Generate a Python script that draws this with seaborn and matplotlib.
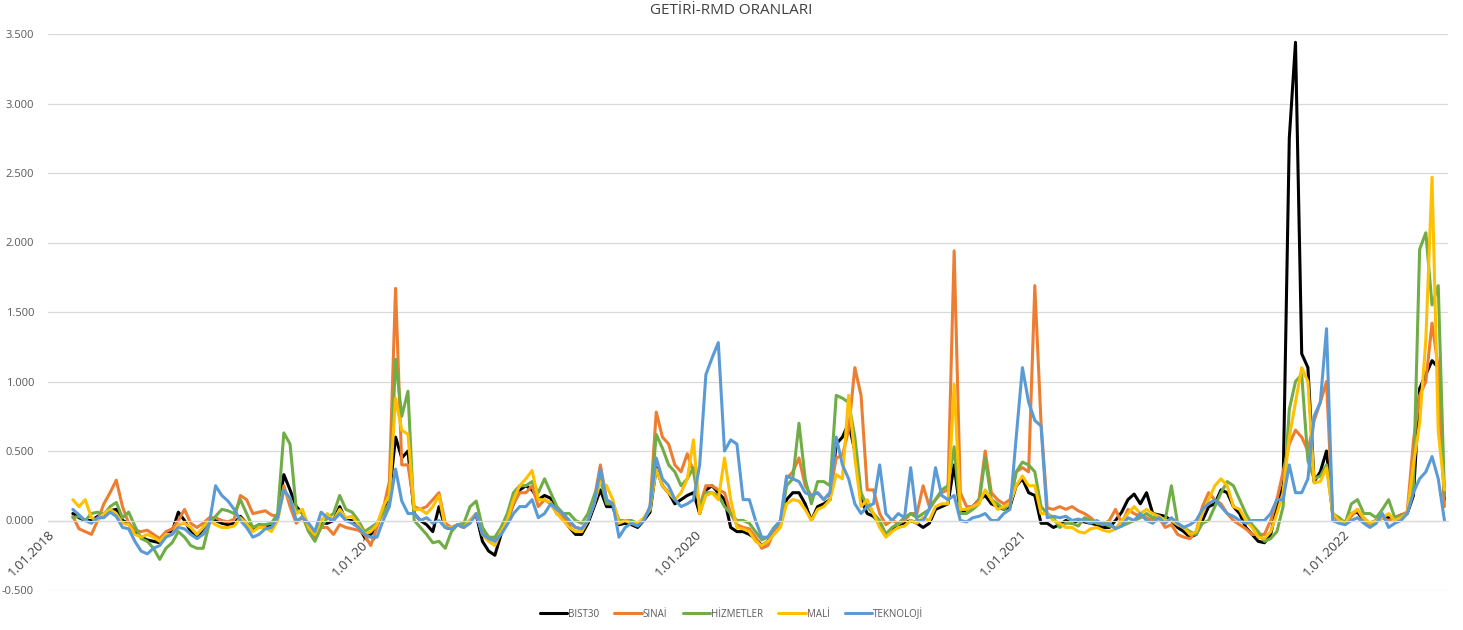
import pandas as pd
import matplotlib
matplotlib.use("Agg")
import matplotlib.pyplot as plt
import matplotlib.dates as mdates
from matplotlib.ticker import FuncFormatter, MultipleLocator
import seaborn as sns

# Weekly return / RMD ratios per index
start_date = "2018-01-29"
series_names = ["BIST30", "SINAİ", "HİZMETLER", "MALİ", "TEKNOLOJİ"]
series_colors = ["#000000", "#ED7D31", "#70AD47", "#FFC000", "#5B9BD5"]

bist30 = [
    0.05, 0.02, 0.0, 0.0, 0.03, 0.05, 0.07, 0.08, 0.0, -0.02, -0.08, -0.12, -0.14, -0.15, -0.16, -0.1, -0.08, 0.06, 0.0, -0.08, -0.12, -0.06, 0.0, 0.0, -0.02, -0.03, -0.02,
    0.03, -0.02, -0.06, -0.03, -0.04, -0.03, 0.02, 0.33, 0.22, 0.1, 0.05, -0.05, -0.12, -0.02, -0.02, 0.0, 0.1, 0.0, 0.0, -0.04, -0.12, -0.1, -0.04, 0.08, 0.18, 0.6,
    0.45, 0.5,
    0.05, 0.0, -0.03, -0.08, 0.1, -0.05, -0.06, -0.03, -0.05, 0.0, 0.04, -0.15, -0.22, -0.25, -0.1, 0.0, 0.12, 0.22, 0.25, 0.22, 0.15, 0.18, 0.16, 0.05, 0.02, -0.05,
    -0.1, -0.1, -0.02, 0.1, 0.22, 0.1, 0.1, -0.03, -0.02, -0.03, -0.05, 0.0, 0.06, 0.38, 0.25, 0.2, 0.12, 0.15, 0.18, 0.2, 0.05, 0.22, 0.25, 0.2, 0.15, -0.05,
    -0.08, -0.08, -0.1, -0.13, -0.18, -0.15, -0.08, -0.04, 0.15, 0.2, 0.2, 0.12, 0.0, 0.1, 0.12, 0.15, 0.55, 0.6, 0.7, 0.5, 0.15, 0.05, 0.03, -0.02, -0.1, -0.06, -0.05, -0.02, 0.0,
    -0.02, -0.05, -0.02, 0.08, 0.1, 0.12, 0.4, 0.05, 0.08, 0.1, 0.15, 0.18, 0.12, 0.1, 0.08, 0.1, 0.25, 0.3, 0.2, 0.18, -0.02, -0.02, -0.05, -0.03, 0.0, -0.02, 0.0, -0.01,
    -0.02, -0.03, -0.05, -0.05, 0.0, 0.06, 0.15, 0.19, 0.12, 0.2, 0.05, 0.04, 0.03, 0.0, -0.05, -0.08, -0.12, -0.1, 0.0, 0.1, 0.12, 0.22, 0.2, 0.1, 0.05, -0.05, -0.1,
    -0.15, -0.16, -0.1, 0.1, 0.25, 2.75, 3.44, 1.2, 1.1, 0.28, 0.35, 0.5, 0.04, 0.0, -0.01, 0.05, 0.06, 0.0, -0.02, 0.0, 0.02, 0.02, 0.02, 0.04, 0.05, 0.18, 0.95, 1.05, 1.15, 1.1, 0.15,
]

sinai = [
    0.03, -0.06, -0.08, -0.1, 0.0, 0.12, 0.2, 0.29, 0.1, -0.02, -0.07, -0.08, -0.07, -0.1, -0.13, -0.08, -0.06, 0.0, 0.08, -0.02, -0.05, -0.02, 0.02, 0.02, 0.0, -0.01, 0.01,
    0.18, 0.15, 0.05, 0.06, 0.07, 0.04, 0.03, 0.25, 0.1, -0.02, 0.03, -0.08, -0.12, -0.05, -0.05, -0.1, -0.03, -0.05, -0.06, -0.07, -0.1, -0.18, -0.05, 0.08, 0.28, 1.67,
    0.4, 0.4,
    0.1, 0.08, 0.1, 0.15, 0.2, -0.02, -0.05, -0.03, -0.05, 0.0, 0.05, -0.08, -0.12, -0.14, -0.06, 0.0, 0.12, 0.2, 0.2, 0.25, 0.1, 0.15, 0.12, 0.05, 0.03, -0.02,
    -0.05, -0.06, 0.0, 0.15, 0.4, 0.15, 0.12, 0.0, 0.0, -0.02, -0.03, 0.0, 0.1, 0.78, 0.6, 0.55, 0.4, 0.35, 0.48, 0.35, 0.1, 0.25, 0.25, 0.22, 0.2, 0.05,
    -0.03, -0.05, -0.06, -0.12, -0.2, -0.18, -0.08, -0.02, 0.3, 0.35, 0.45, 0.25, 0.18, 0.2, 0.15, 0.2, 0.45, 0.47, 0.65, 1.1, 0.9, 0.22, 0.22, 0.05, -0.03, 0.0, -0.02, 0.0, 0.05,
    0.05, 0.25, 0.1, 0.15, 0.2, 0.22, 1.94, 0.2, 0.1, 0.1, 0.15, 0.5, 0.2, 0.15, 0.12, 0.15, 0.35, 0.38, 0.35, 1.69, 0.7, 0.09, 0.08, 0.1, 0.08, 0.1, 0.07, 0.05,
    0.02, -0.02, -0.03, 0.0, 0.08, -0.02, 0.08, 0.05, 0.03, 0.02, 0.0, 0.02, -0.05, -0.03, -0.1, -0.12, -0.13, -0.08, 0.1, 0.2, 0.15, 0.12, 0.05, 0.0, -0.03, -0.06, -0.1,
    -0.1, -0.1, 0.0, 0.15, 0.35, 0.55, 0.65, 0.6, 0.5, 0.72, 0.85, 1.0, 0.03, 0.02, -0.02, 0.03, 0.08, 0.0, -0.03, -0.01, 0.02, 0.0, 0.02, 0.04, 0.06, 0.57, 0.9, 1.0, 1.42, 1.1, 0.1,
]

hizmetler = [
    0.02, 0.03, 0.0, 0.05, 0.06, 0.04, 0.1, 0.13, 0.02, 0.06, -0.04, -0.13, -0.15, -0.2, -0.28, -0.2, -0.16, -0.08, -0.12, -0.18, -0.2, -0.2, -0.02, 0.03, 0.08, 0.07, 0.05,
    0.15, 0.05, -0.05, -0.03, -0.03, -0.02, 0.05, 0.63, 0.55, 0.08, 0.05, -0.08, -0.15, -0.05, 0.02, 0.05, 0.18, 0.08, 0.06, 0.0, -0.08, -0.05, -0.02, 0.05, 0.12, 1.16,
    0.75, 0.93,
    0.0, -0.05, -0.1, -0.16, -0.15, -0.2, -0.08, -0.03, -0.02, 0.1, 0.14, -0.05, -0.12, -0.12, -0.05, 0.05, 0.2, 0.25, 0.25, 0.28, 0.2, 0.3, 0.2, 0.1, 0.05, 0.05,
    0.0, -0.02, 0.05, 0.18, 0.3, 0.12, 0.12, 0.0, 0.0, 0.0, -0.02, 0.01, 0.08, 0.62, 0.52, 0.4, 0.35, 0.25, 0.3, 0.38, 0.1, 0.2, 0.2, 0.18, 0.1, 0.05,
    0.0, 0.0, -0.02, -0.08, -0.14, -0.12, -0.05, -0.02, 0.25, 0.3, 0.7, 0.3, 0.12, 0.28, 0.28, 0.25, 0.9, 0.88, 0.85, 0.6, 0.2, 0.1, 0.05, 0.0, -0.1, -0.05, -0.02, 0.02, 0.05,
    0.02, 0.05, 0.08, 0.15, 0.22, 0.25, 0.53, 0.05, 0.05, 0.08, 0.12, 0.45, 0.15, 0.12, 0.08, 0.12, 0.35, 0.42, 0.4, 0.35, 0.1, 0.05, 0.02, -0.05, -0.02, -0.02, -0.04, 0.02,
    0.0, -0.02, -0.02, -0.04, -0.05, -0.04, -0.02, 0.0, 0.02, 0.05, 0.02, 0.03, 0.0, 0.25, -0.02, -0.05, -0.08, -0.1, -0.02, 0.0, 0.1, 0.2, 0.28, 0.25, 0.15, 0.05, -0.03,
    -0.08, -0.15, -0.13, -0.08, 0.1, 0.8, 1.0, 1.05, 0.43, 0.3, 0.32, 0.4, 0.05, 0.02, -0.02, 0.12, 0.15, 0.05, 0.05, 0.02, 0.08, 0.15, 0.02, 0.03, 0.05, 0.25, 1.95, 2.07, 1.55, 1.69, 0.18,
]

mali = [
    0.15, 0.1, 0.15, 0.02, 0.0, 0.05, 0.08, 0.05, -0.02, -0.03, -0.1, -0.12, -0.1, -0.12, -0.15, -0.1, -0.1, -0.03, -0.02, -0.05, -0.1, -0.05, 0.0, -0.03, -0.05, -0.05, -0.04,
    0.02, -0.02, -0.08, -0.05, -0.05, -0.08, 0.0, 0.22, 0.15, 0.05, 0.08, -0.05, -0.1, 0.0, 0.05, 0.0, 0.08, 0.02, 0.03, -0.03, -0.1, -0.08, -0.03, 0.1, 0.18, 0.88,
    0.65, 0.62,
    0.08, 0.08, 0.05, 0.1, 0.18, -0.05, -0.05, -0.03, -0.05, 0.0, 0.05, -0.1, -0.15, -0.18, -0.08, 0.0, 0.15, 0.25, 0.3, 0.36, 0.15, 0.15, 0.13, 0.05, 0.0, -0.05,
    -0.08, -0.08, 0.0, 0.12, 0.28, 0.25, 0.15, -0.02, 0.0, -0.02, -0.02, 0.02, 0.08, 0.37, 0.25, 0.2, 0.15, 0.2, 0.3, 0.58, 0.05, 0.18, 0.2, 0.15, 0.45, 0.15,
    -0.05, -0.06, -0.08, -0.15, -0.18, -0.15, -0.1, -0.05, 0.12, 0.15, 0.14, 0.08, 0.0, 0.08, 0.1, 0.15, 0.33, 0.3, 0.9, 0.45, 0.1, 0.15, 0.05, -0.05, -0.12, -0.08, -0.05, -0.04, 0.0,
    -0.02, 0.02, 0.0, 0.1, 0.12, 0.12, 0.98, 0.08, 0.08, 0.1, 0.12, 0.22, 0.15, 0.08, 0.1, 0.12, 0.25, 0.32, 0.25, 0.25, 0.05, 0.05, 0.0, -0.02, -0.05, -0.05, -0.08, -0.09,
    -0.06, -0.05, -0.07, -0.08, -0.06, 0.0, 0.05, 0.1, 0.05, 0.08, 0.05, 0.03, 0.0, 0.0, -0.03, -0.05, -0.1, -0.08, 0.05, 0.15, 0.25, 0.3, 0.25, 0.1, 0.08, 0.0, -0.05,
    -0.12, -0.13, -0.08, 0.05, 0.2, 0.6, 0.85, 1.1, 1.0, 0.27, 0.28, 0.38, 0.05, 0.0, -0.02, 0.05, 0.08, 0.02, -0.02, 0.0, 0.02, 0.05, 0.0, 0.02, 0.05, 0.4, 0.7, 1.3, 2.47, 0.64, 0.22,
]

teknoloji = [
    0.08, 0.04, 0.0, -0.02, 0.02, 0.02, 0.06, 0.03, -0.05, -0.06, -0.15, -0.22, -0.24, -0.2, -0.18, -0.12, -0.1, -0.05, -0.06, -0.1, -0.13, -0.1, -0.02, 0.25, 0.18, 0.14, 0.08,
    0.0, -0.05, -0.12, -0.1, -0.06, -0.05, 0.02, 0.22, 0.16, 0.0, 0.02, -0.02, -0.08, 0.06, 0.02, 0.0, 0.05, 0.0, -0.02, -0.05, -0.1, -0.12, -0.12, 0.0, 0.1, 0.37,
    0.14, 0.05,
    0.05, 0.0, 0.02, -0.02, 0.0, -0.05, -0.06, -0.03, -0.05, -0.02, 0.05, -0.1, -0.13, -0.15, -0.1, -0.03, 0.05, 0.1, 0.1, 0.15, 0.02, 0.05, 0.12, 0.08, 0.05, 0.0,
    -0.05, -0.06, 0.0, 0.12, 0.37, 0.15, 0.12, -0.12, -0.05, -0.02, -0.04, 0.0, 0.1, 0.45, 0.3, 0.25, 0.15, 0.1, 0.12, 0.15, 0.4, 1.05, 1.17, 1.28, 0.5, 0.58,
    0.55, 0.15, 0.15, 0.0, -0.12, -0.12, -0.05, 0.0, 0.32, 0.3, 0.28, 0.2, 0.18, 0.2, 0.15, 0.2, 0.6, 0.4, 0.3, 0.12, 0.05, 0.1, 0.12, 0.4, 0.05, 0.0, 0.05, 0.02, 0.38,
    0.0, 0.0, 0.08, 0.38, 0.18, 0.15, 0.18, 0.0, -0.01, 0.02, 0.03, 0.05, 0.0, 0.0, 0.05, 0.08, 0.6, 1.1, 0.85, 0.72, 0.68, 0.02, 0.03, 0.02, 0.03, 0.0, 0.01, 0.0,
    -0.02, 0.0, -0.03, -0.02, -0.06, -0.04, 0.02, 0.0, 0.05, 0.0, -0.02, 0.02, -0.02, 0.02, -0.02, -0.05, -0.03, 0.0, 0.08, 0.12, 0.15, 0.1, 0.05, 0.03, 0.0, -0.02, 0.0,
    0.0, 0.0, 0.05, 0.15, 0.15, 0.4, 0.2, 0.2, 0.3, 0.75, 0.85, 1.38, 0.0, -0.02, -0.03, 0.0, 0.02, -0.02, -0.05, -0.02, 0.05, -0.05, -0.02, 0.0, 0.05, 0.2, 0.3, 0.35, 0.46, 0.3, 0.0,
]

series_values = [bist30, sinai, hizmetler, mali, teknoloji]
dates = pd.date_range(start_date, periods=len(bist30), freq="7D")

frames = [
    pd.DataFrame({"Tarih": dates, "Oran": vals, "Seri": name})
    for name, vals in zip(series_names, series_values)
]
df = pd.concat(frames, ignore_index=True)

sns.set_style("white")
plt.rcParams["font.family"] = ["Open Sans", "DejaVu Sans"]

W, H = 1463, 630
fig = plt.figure(figsize=(W / 100, H / 100), dpi=100)
ax = fig.add_axes([48 / W, 1 - 590 / H, 1400 / W, 556 / H])

sns.lineplot(
    data=df, x="Tarih", y="Oran", hue="Seri", hue_order=series_names,
    palette=series_colors, linewidth=2.2, ax=ax,
)

ax.set_ylim(-0.5, 3.5)
ax.set_xlim(pd.Timestamp("2018-01-01"), pd.Timestamp("2022-04-29"))
ax.set_xlabel("")
ax.set_ylabel("")

ax.yaxis.set_major_locator(MultipleLocator(0.5))
ax.yaxis.set_major_formatter(FuncFormatter(lambda v, p: f"{v:.3f}"))
ax.grid(axis="y", color="#D9D9D9", linewidth=0.9)
ax.grid(axis="x", visible=False)
ax.set_axisbelow(True)
for side in ["top", "right", "left"]:
    ax.spines[side].set_visible(False)
ax.spines["bottom"].set_position(("data", 0))
ax.spines["bottom"].set_color("#D9D9D9")
ax.spines["bottom"].set_linewidth(0.9)


def date_label(v, pos):
    d = mdates.num2date(v)
    return f"{d.day}.{d.month:02d}.{d.year}"


ax.xaxis.set_major_locator(mdates.YearLocator())
ax.xaxis.set_major_formatter(FuncFormatter(date_label))
ax.tick_params(axis="x", length=4, color="#D9D9D9", labelsize=9.5,
               labelcolor="#404040", pad=1)
for lbl in ax.get_xticklabels():
    lbl.set_rotation(45)
    lbl.set_ha("right")
    lbl.set_va("top")
    lbl.set_rotation_mode("anchor")
ax.tick_params(axis="y", length=0, pad=10, labelsize=8, labelcolor="#595959")

fig.text(0.5, 1 - 11 / H, "GETİRİ-RMD ORANLARI", ha="center", va="center",
         fontsize=11, color="#404040")

handles, labels = ax.get_legend_handles_labels()
ax.get_legend().remove()
leg = fig.legend(handles, labels, loc="center", bbox_to_anchor=(0.5, 1 - 614 / H),
                 ncol=5, frameon=False, fontsize=7, handlelength=2.8,
                 handletextpad=0.1, columnspacing=1.6)
for t in leg.get_texts():
    t.set_color("#595959")

fig.savefig("out.png", dpi=100)
